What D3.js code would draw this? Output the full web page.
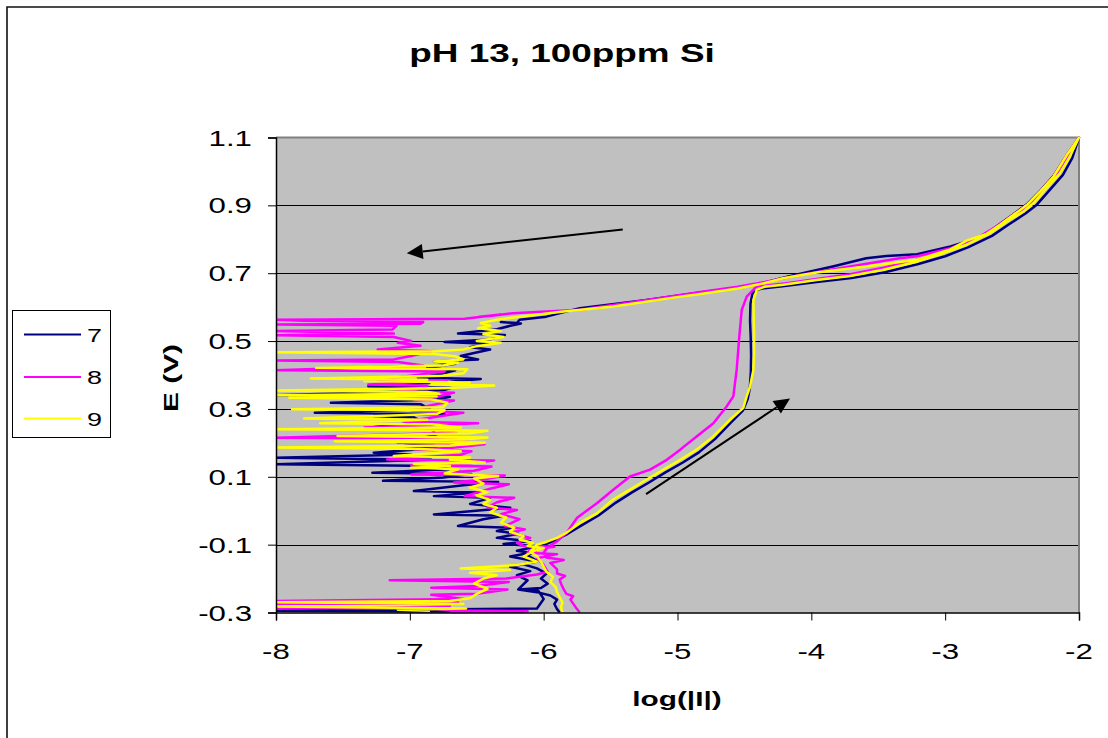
<!DOCTYPE html>
<html>
<head>
<meta charset="utf-8">
<script src="https://cdn.jsdelivr.net/npm/d3@7/dist/d3.min.js"></script>
<style>
  html, body { margin: 0; padding: 0; background: #fff; }
  svg { display: block; }
  text { font-family: "Liberation Sans", Arial, Helvetica, sans-serif; fill: #000; }
</style>
</head>
<body>
<svg id="chart" width="1108" height="738"></svg>
<script>
// ---- Axis ticks -------------------------------------------------------
const xTicks = [-8, -7, -6, -5, -4, -3, -2];
const yTicks = [-0.3, -0.1, 0.1, 0.3, 0.5, 0.7, 0.9, 1.1];

const chartTitle = "pH 13, 100ppm Si";
const xTitle = "log(|I|)";
const yTitle = "E (V)";

// ---- Series: each point is [log|I|, E (V)] in scan order --------------
const seriesNames = ["7", "8", "9"];

// run 7 – anodic (forward) sweep
const fwd7 = [
  [-5.88,-0.300],[-5.90,-0.290],[-5.92,-0.275],[-5.90,-0.262],[-5.95,-0.250],[-6.05,-0.240],
  [-6.19,-0.232],[-6.02,-0.228],[-5.97,-0.215],[-6.02,-0.200],[-5.98,-0.185],[-6.05,-0.170],
  [-6.15,-0.158],[-6.05,-0.148],[-6.12,-0.132],[-6.06,-0.118],[-6.02,-0.104],[-5.92,-0.088],
  [-5.82,-0.068],[-5.72,-0.044],[-5.59,-0.014],[-5.46,0.024],[-5.34,0.054],[-5.21,0.084],
  [-5.09,0.113],[-4.96,0.142],[-4.84,0.172],[-4.72,0.211],[-4.60,0.260],[-4.51,0.296],
  [-4.475,0.330],[-4.46,0.360],[-4.452,0.410],[-4.450,0.460],[-4.453,0.510],[-4.458,0.560],
  [-4.455,0.610],[-4.44,0.640],[-4.40,0.652],[-4.35,0.656],[-4.20,0.662],[-3.96,0.674],
  [-3.70,0.686],[-3.45,0.703],[-3.20,0.727],[-3.00,0.750],[-2.83,0.776],[-2.65,0.810],
  [-2.52,0.845],[-2.40,0.876],[-2.32,0.900],[-2.22,0.945],[-2.12,0.990],[-2.05,1.040],[-2.00,1.100]
];
// run 7 – reverse sweep
const rev7 = [
  [-2.00,1.100],[-2.09,1.049],[-2.19,0.987],[-2.29,0.943],[-2.39,0.903],[-2.49,0.874],
  [-2.61,0.840],[-2.72,0.808],[-2.96,0.779],[-3.21,0.756],[-3.44,0.751],[-3.59,0.744],
  [-3.84,0.720],[-4.00,0.706],[-4.18,0.690],[-4.36,0.671],[-4.53,0.658],[-4.83,0.643],
  [-5.23,0.621],[-5.73,0.597],[-5.98,0.572],[-6.18,0.563],[-6.20,0.553],
  [-6.32,0.556],[-6.17,0.552],[-6.25,0.545],[-6.35,0.535],[-6.64,0.522],[-6.29,0.518],
  [-6.40,0.505],[-6.74,0.497],[-6.42,0.492],[-6.55,0.482],[-6.40,0.475],[-6.52,0.465],
  [-6.62,0.456],[-6.49,0.446],[-6.82,0.440],[-6.66,0.433],[-6.87,0.421],[-6.66,0.414],
  [-6.75,0.405],[-6.94,0.392],[-6.47,0.388],[-6.70,0.380],[-7.31,0.367],[-6.69,0.362],
  [-6.75,0.355],[-8.00,0.340],[-6.70,0.336],[-6.80,0.328],[-7.59,0.318],[-6.92,0.314],
  [-6.85,0.300],[-7.71,0.289],[-6.74,0.285],[-7.27,0.279],[-6.97,0.275],[-6.90,0.262],
  [-7.29,0.245],[-6.84,0.240],[-6.80,0.225],[-6.95,0.210],[-6.82,0.198],[-7.04,0.191],
  [-6.80,0.185],[-7.27,0.171],[-6.99,0.166],[-8.00,0.156],[-6.84,0.150],[-8.00,0.137],
  [-6.82,0.132],[-6.70,0.122],[-7.28,0.112],[-6.54,0.108],[-6.75,0.098],[-7.20,0.088],
  [-6.34,0.085],[-6.60,0.075],[-6.97,0.058],[-6.49,0.054],[-6.82,0.043],[-6.40,0.038],
  [-6.55,0.020],[-6.25,0.009],[-6.82,-0.011],[-6.30,-0.015],[-6.45,-0.025],[-6.64,-0.045],
  [-6.24,-0.050],[-6.35,-0.060],[-6.19,-0.068],[-6.35,-0.080],[-6.10,-0.090],[-6.30,-0.098],
  [-6.05,-0.105],[-6.20,-0.118],[-6.10,-0.124],[-6.25,-0.135],[-6.05,-0.150],[-6.25,-0.165],
  [-6.10,-0.178],[-6.20,-0.190],[-6.12,-0.205],[-6.19,-0.232],[-6.04,-0.236],[-6.00,-0.260],
  [-6.05,-0.288],[-8.00,-0.295],[-6.15,-0.298]
];

// run 8 – anodic (forward) sweep
const fwd8 = [
  [-5.73,-0.300],[-5.76,-0.285],[-5.80,-0.262],[-5.78,-0.252],[-5.83,-0.245],[-5.85,-0.232],
  [-5.87,-0.215],[-5.88,-0.203],[-5.84,-0.192],[-5.90,-0.185],[-5.90,-0.173],[-5.95,-0.154],
  [-5.85,-0.145],[-5.98,-0.138],[-6.00,-0.124],[-5.97,-0.108],[-5.90,-0.090],[-5.83,-0.066],
  [-5.75,-0.021],[-5.60,0.023],[-5.48,0.062],[-5.355,0.101],[-5.205,0.121],[-5.08,0.150],
  [-4.98,0.180],[-4.857,0.219],[-4.732,0.258],[-4.633,0.307],[-4.583,0.337],[-4.558,0.415],
  [-4.538,0.514],[-4.52,0.592],[-4.483,0.631],[-4.408,0.661],[-4.35,0.663],[-4.20,0.670],
  [-3.96,0.683],[-3.71,0.697],[-3.46,0.716],[-3.21,0.740],[-3.01,0.765],[-2.84,0.790],
  [-2.67,0.822],[-2.54,0.855],[-2.42,0.885],[-2.34,0.910],[-2.24,0.955],[-2.14,1.000],
  [-2.07,1.048],[-2.00,1.100]
];
// run 8 – reverse sweep
const rev8 = [
  [-2.00,1.100],[-2.09,1.049],[-2.19,0.985],[-2.29,0.941],[-2.39,0.901],[-2.49,0.872],
  [-2.615,0.838],[-2.765,0.803],[-2.96,0.774],[-3.21,0.750],[-3.34,0.744],[-3.71,0.720],
  [-4.085,0.695],[-4.38,0.672],[-4.55,0.660],[-4.83,0.645],[-4.98,0.636],[-5.38,0.612],
  [-5.73,0.592],[-5.98,0.587],[-6.23,0.582],[-6.40,0.574],[-6.48,0.572],
  [-6.32,0.578],[-6.59,0.566],[-8.00,0.563],[-7.80,0.560],[-6.90,0.556],[-6.92,0.551],
  [-8.00,0.549],[-7.10,0.545],[-7.13,0.534],[-8.00,0.530],[-7.12,0.522],[-8.00,0.517],
  [-7.12,0.512],[-6.99,0.500],[-7.09,0.495],[-6.92,0.486],[-7.24,0.475],[-6.84,0.470],
  [-7.00,0.455],[-7.12,0.446],[-8.00,0.443],[-7.09,0.438],[-6.90,0.428],[-7.54,0.420],
  [-8.00,0.414],[-6.74,0.410],[-6.95,0.400],[-7.24,0.387],[-6.72,0.384],[-7.31,0.372],
  [-6.87,0.368],[-6.95,0.358],[-7.09,0.352],[-6.67,0.348],[-6.80,0.335],[-6.97,0.328],
  [-6.67,0.325],[-6.85,0.310],[-6.99,0.296],[-6.60,0.289],[-6.75,0.280],[-7.04,0.262],
  [-6.49,0.258],[-7.34,0.245],[-6.84,0.240],[-6.65,0.230],[-8.00,0.215],[-6.54,0.212],
  [-6.80,0.205],[-7.09,0.200],[-6.44,0.196],[-6.70,0.185],[-6.97,0.181],[-6.54,0.175],
  [-6.62,0.165],[-7.17,0.151],[-6.37,0.148],[-6.55,0.140],[-6.99,0.134],[-6.39,0.130],
  [-6.52,0.118],[-6.99,0.107],[-6.29,0.104],[-6.45,0.092],[-6.67,0.083],[-6.26,0.078],
  [-6.40,0.065],[-6.59,0.043],[-6.22,0.038],[-6.35,0.025],[-6.42,0.010],[-6.20,0.002],
  [-6.32,-0.010],[-6.18,-0.025],[-6.29,-0.045],[-6.14,-0.055],[-6.25,-0.065],[-6.10,-0.080],
  [-6.20,-0.095],[-6.15,-0.104],[-5.92,-0.106],[-6.10,-0.115],[-6.12,-0.124],[-5.90,-0.128],
  [-6.05,-0.140],[-6.00,-0.160],[-5.97,-0.180],[-6.05,-0.188],[-6.28,-0.200],[-7.15,-0.205],
  [-6.26,-0.210],[-6.50,-0.222],[-6.84,-0.227],[-6.27,-0.232],[-6.50,-0.245],[-6.84,-0.248],
  [-6.60,-0.260],[-8.00,-0.266],[-6.64,-0.270],[-8.00,-0.276],[-6.70,-0.280],[-8.00,-0.286],
  [-6.80,-0.290],[-6.69,-0.294],[-6.12,-0.296],[-6.70,-0.299]
];

// run 9 – anodic (forward) sweep
const fwd9 = [
  [-5.86,-0.300],[-5.87,-0.285],[-5.86,-0.270],[-5.88,-0.255],[-5.90,-0.240],[-5.91,-0.225],
  [-5.95,-0.210],[-5.93,-0.195],[-5.98,-0.180],[-6.00,-0.165],[-6.02,-0.150],[-6.05,-0.135],
  [-6.10,-0.120],[-6.07,-0.110],[-6.05,-0.100],[-5.98,-0.092],[-5.90,-0.080],[-5.83,-0.065],
  [-5.73,-0.036],[-5.60,-0.007],[-5.48,0.033],[-5.355,0.062],[-5.23,0.092],[-5.105,0.121],
  [-4.98,0.150],[-4.857,0.180],[-4.732,0.219],[-4.608,0.268],[-4.508,0.303],[-4.483,0.337],
  [-4.458,0.366],[-4.433,0.415],[-4.428,0.464],[-4.428,0.514],[-4.430,0.563],[-4.433,0.621],
  [-4.408,0.651],[-4.35,0.660],[-4.209,0.666],[-3.96,0.680],[-3.711,0.692],[-3.462,0.710],
  [-3.213,0.734],[-3.014,0.759],[-2.84,0.784],[-2.665,0.818],[-2.541,0.852],[-2.416,0.882],
  [-2.341,0.906],[-2.242,0.951],[-2.142,0.995],[-2.068,1.044],[-2.00,1.100]
];
// run 9 – reverse sweep
const rev9 = [
  [-2.00,1.100],[-2.09,1.049],[-2.19,0.985],[-2.29,0.941],[-2.39,0.901],[-2.49,0.872],
  [-2.59,0.843],[-2.69,0.816],[-2.84,0.796],[-2.96,0.770],[-3.21,0.740],[-3.59,0.720],
  [-3.96,0.702],[-4.21,0.685],[-4.38,0.668],[-4.55,0.655],[-4.83,0.639],[-4.98,0.631],
  [-5.48,0.602],[-5.85,0.587],[-6.18,0.572],[-6.35,0.563],[-6.47,0.553],
  [-6.40,0.545],[-6.49,0.538],[-6.32,0.530],[-6.45,0.520],[-6.30,0.512],[-6.50,0.500],
  [-6.32,0.495],[-6.50,0.485],[-6.60,0.475],[-6.80,0.470],[-8.00,0.467],[-6.82,0.462],
  [-6.66,0.455],[-6.60,0.446],[-6.82,0.440],[-6.64,0.436],[-6.75,0.428],[-7.70,0.421],
  [-6.57,0.417],[-6.60,0.405],[-6.75,0.398],[-7.74,0.390],[-6.87,0.386],[-7.34,0.382],
  [-6.55,0.378],[-6.84,0.372],[-6.37,0.369],[-6.70,0.362],[-8.00,0.354],[-6.87,0.350],
  [-6.78,0.345],[-8.00,0.340],[-6.80,0.337],[-7.90,0.333],[-6.84,0.328],[-6.72,0.318],
  [-6.75,0.305],[-7.88,0.299],[-6.74,0.296],[-6.80,0.285],[-7.79,0.272],[-6.87,0.268],
  [-7.67,0.258],[-6.84,0.255],[-6.62,0.245],[-8.00,0.240],[-6.42,0.236],[-6.55,0.228],
  [-7.54,0.220],[-6.42,0.216],[-6.60,0.210],[-7.56,0.205],[-6.44,0.200],[-6.70,0.192],
  [-8.00,0.186],[-6.92,0.182],[-6.62,0.175],[-7.12,0.161],[-6.55,0.157],[-6.70,0.150],
  [-6.44,0.142],[-6.97,0.138],[-6.70,0.132],[-6.99,0.127],[-6.64,0.122],[-6.74,0.110],
  [-6.34,0.102],[-6.52,0.095],[-6.45,0.080],[-6.55,0.068],[-6.42,0.055],[-6.50,0.045],
  [-6.40,0.032],[-6.45,0.020],[-6.35,0.009],[-6.40,-0.005],[-6.28,-0.020],[-6.32,-0.035],
  [-6.22,-0.050],[-6.25,-0.062],[-6.15,-0.075],[-6.18,-0.085],[-6.08,-0.095],[-6.12,-0.104],
  [-6.00,-0.110],[-6.08,-0.120],[-6.15,-0.135],[-6.05,-0.150],[-6.20,-0.160],[-6.62,-0.170],
  [-6.25,-0.175],[-6.55,-0.183],[-6.35,-0.190],[-6.45,-0.200],[-6.52,-0.215],[-6.42,-0.230],
  [-6.50,-0.245],[-6.55,-0.258],[-6.70,-0.266],[-8.00,-0.270],[-6.60,-0.275],[-8.00,-0.282],
  [-6.58,-0.288],[-7.09,-0.292],[-6.85,-0.295]
];

// scan-direction arrows: [from, to] in data units
const arrows = [
  [[-5.409, 0.829], [-7.023, 0.759]],
  [[-5.235, 0.049], [-4.159, 0.331]]
];

// ---- Layout ----------------------------------------------------------
const svg = d3.select("#chart");
const plot = { left: 276, top: 137.5, right: 1079, bottom: 612.5 };
const TEXT_STRETCH = 1.42;   // wide chart lettering

const x = d3.scaleLinear().domain([-8, -2]).range([plot.left, plot.right]);
const y = d3.scaleLinear().domain([-0.3, 1.1]).range([plot.bottom, plot.top]);

const series = [
  { name: seriesNames[0], color: "#000080", points: fwd7.concat(rev7) },
  { name: seriesNames[1], color: "#FF00FF", points: fwd8.concat(rev8) },
  { name: seriesNames[2], color: "#FFFF00", points: fwd9.concat(rev9) }
];

// plain hyphen-minus numbers, one decimal on the E axis
const fmtE = v => v.toFixed(1);
const fmtLog = v => String(v);

function label(parent, str, px, py, opts) {
  const o = Object.assign({ size: 22, weight: "normal", anchor: "middle", rotate: 0 }, opts);
  return parent.append("text")
    .attr("transform", `translate(${px},${py}) rotate(${o.rotate}) scale(${TEXT_STRETCH},1)`)
    .attr("text-anchor", o.anchor)
    .style("font-size", o.size + "px")
    .style("font-weight", o.weight)
    .text(str);
}

// chart frame
svg.append("path")
  .attr("d", "M7,738 V7 H1108")
  .attr("fill", "none")
  .attr("stroke", "#111")
  .attr("stroke-width", 1.6);

// plot background
svg.append("rect")
  .attr("x", plot.left).attr("y", plot.top)
  .attr("width", plot.right - plot.left).attr("height", plot.bottom - plot.top)
  .attr("fill", "#C0C0C0");

// horizontal gridlines
svg.append("g").selectAll("line")
  .data(yTicks.filter(t => t > -0.3 && t < 1.1))
  .join("line")
  .attr("x1", plot.left).attr("x2", plot.right)
  .attr("y1", d => Math.round(y(d)) + 0.5).attr("y2", d => Math.round(y(d)) + 0.5)
  .attr("stroke", "#000").attr("stroke-width", 1);

// plot border (top / right)
svg.append("path")
  .attr("d", `M${plot.left},${plot.top} H${plot.right} V${plot.bottom}`)
  .attr("fill", "none").attr("stroke", "#808080").attr("stroke-width", 2);

// curves
svg.append("clipPath").attr("id", "plotClip").append("rect")
  .attr("x", plot.left).attr("y", plot.top - 2)
  .attr("width", plot.right - plot.left + 2).attr("height", plot.bottom - plot.top + 3);

const line = d3.line().x(d => x(d[0])).y(d => y(d[1]));
svg.append("g").attr("clip-path", "url(#plotClip)")
  .selectAll("path")
  .data(series)
  .join("path")
  .attr("d", d => line(d.points))
  .attr("fill", "none")
  .attr("stroke", d => d.color)
  .attr("stroke-width", 2.5)
  .attr("stroke-linejoin", "round");

// axes
const yAxis = d3.axisLeft(y).tickValues(yTicks).tickSize(8).tickFormat("");
const xAxis = d3.axisBottom(x).tickValues(xTicks).tickSize(8).tickFormat("");
const gy = svg.append("g").attr("transform", `translate(${plot.left},0)`).call(yAxis);
const gx = svg.append("g").attr("transform", `translate(0,${plot.bottom})`).call(xAxis);
[gy, gx].forEach(g => {
  g.select(".domain").attr("stroke", "#000").attr("stroke-width", 1.5);
  g.selectAll(".tick line").attr("stroke", "#000").attr("stroke-width", 1);
});

// tick labels
const tickLabels = svg.append("g");
yTicks.forEach(t => label(tickLabels, fmtE(t), 252, y(t) + 8, { anchor: "end", size: 22 }));
xTicks.forEach(t => label(tickLabels, fmtLog(t), x(t), 659, { size: 22 }));

// titles
label(svg, chartTitle, 562, 62, { size: 26, weight: "bold" });
label(svg, xTitle, 677, 706, { size: 21, weight: "bold" });
label(svg, yTitle, 178, 378, { size: 21, weight: "bold", rotate: -90 });

// arrows
const arrowG = svg.append("g");
arrows.forEach(([a, b]) => {
  const x0 = x(a[0]), y0 = y(a[1]), x1 = x(b[0]), y1 = y(b[1]);
  const ang = Math.atan2(y1 - y0, x1 - x0);
  const len = 16, half = 7.5;
  const bx = x1 - len * Math.cos(ang), by = y1 - len * Math.sin(ang);
  arrowG.append("line")
    .attr("x1", x0).attr("y1", y0).attr("x2", bx).attr("y2", by)
    .attr("stroke", "#000").attr("stroke-width", 2);
  arrowG.append("polygon")
    .attr("points", [
      [x1, y1],
      [bx + half * Math.sin(ang), by - half * Math.cos(ang)],
      [bx - half * Math.sin(ang), by + half * Math.cos(ang)]
    ].map(p => p.join(",")).join(" "))
    .attr("fill", "#000");
});

// legend
const legend = svg.append("g");
legend.append("rect")
  .attr("x", 12.5).attr("y", 310.5).attr("width", 98).attr("height", 127)
  .attr("fill", "#fff").attr("stroke", "#000").attr("stroke-width", 1);
const legendY = [334.5, 377, 418.5];
series.forEach((s, i) => {
  legend.append("line")
    .attr("x1", 24).attr("x2", 81).attr("y1", legendY[i]).attr("y2", legendY[i])
    .attr("stroke", s.color).attr("stroke-width", 2);
  label(legend, s.name, 87, legendY[i] + 7, { anchor: "start", size: 19 });
});
</script>
</body>
</html>
